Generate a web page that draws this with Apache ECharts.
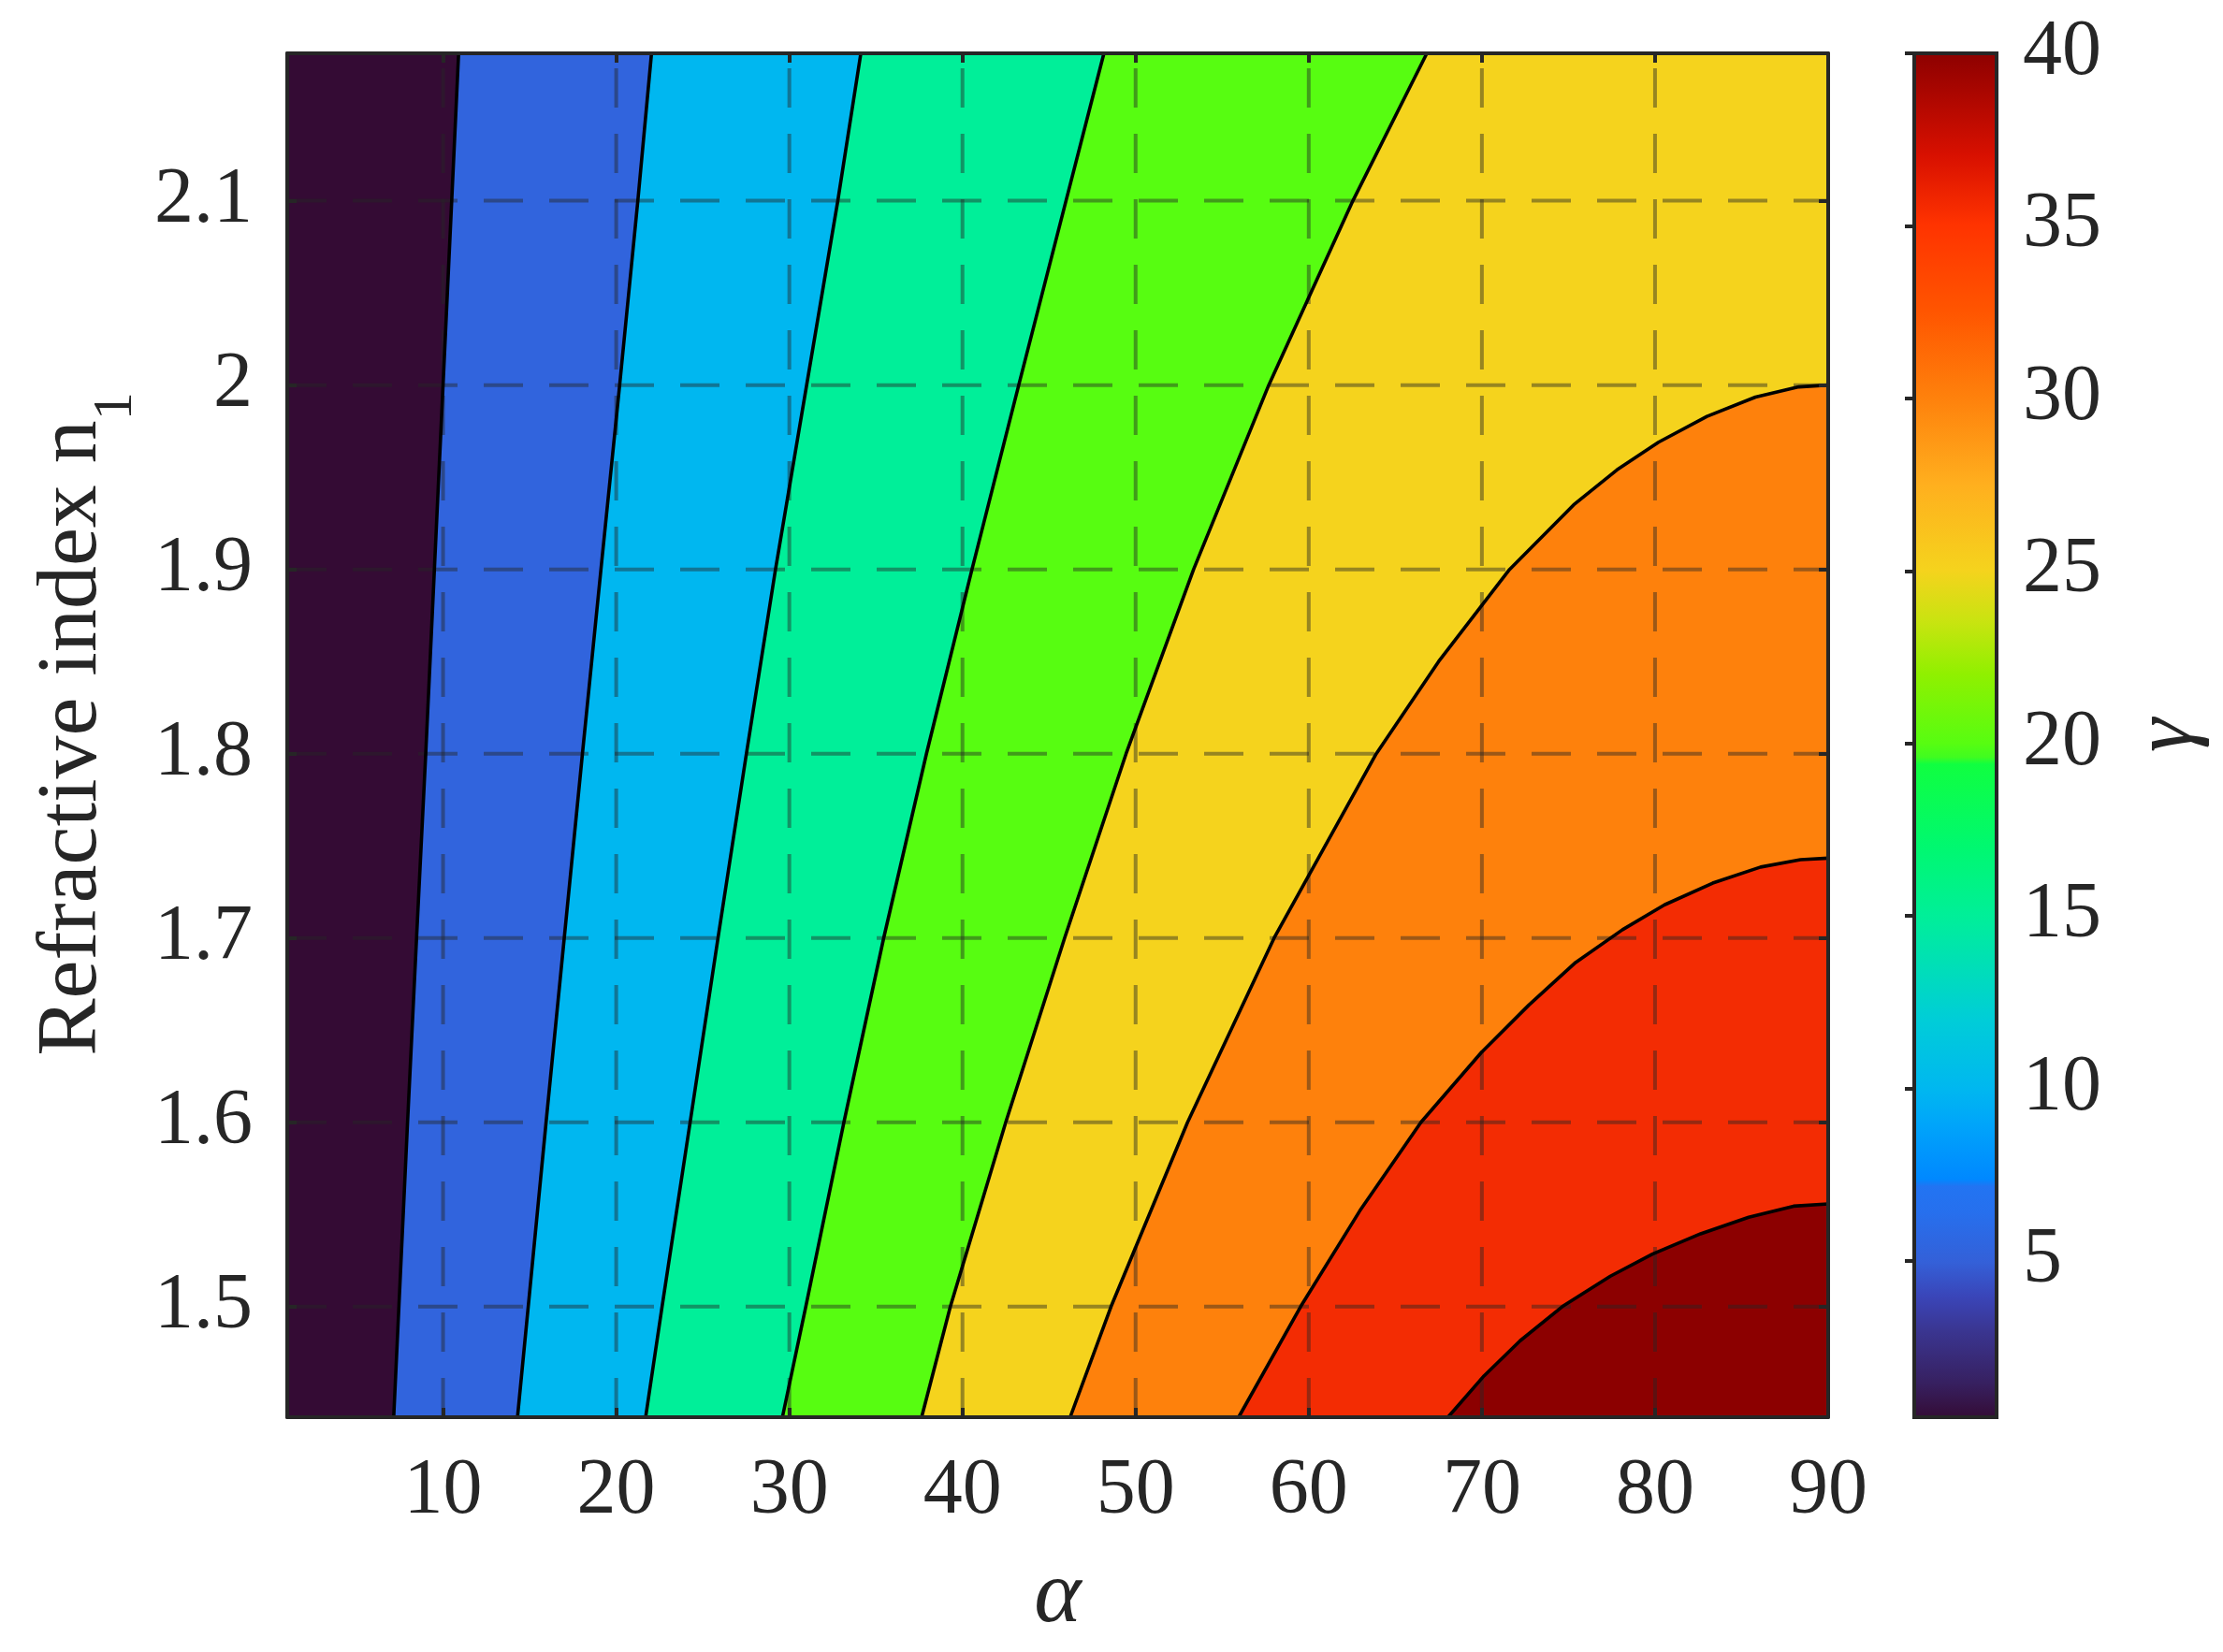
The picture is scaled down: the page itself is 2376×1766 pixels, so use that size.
<!DOCTYPE html>
<html><head><meta charset="utf-8">
<script src="https://cdn.jsdelivr.net/npm/echarts@6/dist/echarts.min.js"></script>
<style>html,body{margin:0;padding:0;background:#fff}#c{width:2376px;height:1766px}</style>
</head><body><div id="c"></div>
<script>
// ---- data ----
const alphaRange = [1, 90];
const nRange = [1.44, 2.18];
const xTicks = [10, 20, 30, 40, 50, 60, 70, 80, 90];
const yTicks = [1.5, 1.6, 1.7, 1.8, 1.9, 2.0, 2.1];
const levels = [5, 10, 15, 20, 25, 30, 35, 40];
const bandColors = ['#340B34', '#3164DD', '#00B7F0', '#00EF99', '#57FD11', '#F5D31D', '#FE810C', '#F32C03', '#8C0000'];
// contour lines: [alpha, n]
const contour05 = [[10.9,2.18],[10.5,2.1],[10.0,2.0],[9.5,1.9],[9.0,1.8],[8.47,1.7],[7.95,1.6],[7.45,1.5],[7.15,1.44]];
const contour10 = [[22.04,2.18],[21.25,2.1],[20.2,2.0],[19.12,1.9],[18.05,1.8],[17.0,1.7],[15.95,1.6],[14.92,1.5],[14.3,1.44]];
const contour15 = [[34.13,2.18],[32.8,2.1],[31.0,2.0],[29.2,1.9],[27.52,1.8],[25.88,1.7],[24.27,1.6],[22.65,1.5],[21.7,1.44]];
const contour20 = [[48.17,2.18],[45.98,2.1],[43.25,2.0],[40.55,1.9],[37.92,1.8],[35.45,1.7],[33.15,1.6],[30.95,1.5],[29.6,1.44]];
const contour25 = [[66.82,2.18],[62.55,2.1],[57.69,2.0],[53.35,1.9],[49.45,1.8],[45.9,1.7],[42.5,1.6],[39.3,1.5],[37.64,1.44]];
const contour30 = [[46.22,1.44],[48.58,1.5],[53.0,1.6],[58.0,1.7],[63.9,1.8],[67.5,1.85],[71.6,1.9],[75.3,1.935],[77.8,1.954],[80.2,1.969],[83.0,1.983],[85.8,1.9935],[88.3,1.999],[90,2.0]];
const contour35 = [[55.95,1.44],[59.53,1.5],[62.95,1.552],[66.48,1.6],[69.95,1.6377],[72.7,1.6635],[75.41,1.6867],[78.12,1.7045],[80.55,1.718],[83.33,1.7298],[86.1,1.7385],[88.4,1.7425],[90,1.7433]];
const contour40 = [[68.04,1.44],[70.13,1.4625],[72.21,1.4815],[74.64,1.5],[77.42,1.5165],[79.85,1.5285],[82.63,1.5395],[85.41,1.5485],[88.0,1.5545],[90,1.5557]];
const contours = [contour05, contour10, contour15, contour20, contour25, contour30, contour35, contour40];
// colour bar
const cbRange = [0.47, 40];
const cbTicks = [5, 10, 15, 20, 25, 30, 35, 40];
const cbStopValues = [0.47, 1.5, 3, 4, 5, 6.5, 7.2, 7.4, 9, 10, 12, 15, 17, 19.4, 19.6, 20, 22, 23.5, 25, 27.5, 30, 32.5, 35, 37, 40];
const cbStopColors = ['#340B34', '#372060', '#3A3590', '#3A45B8', '#3460D8', '#2670EE', '#2274F2', '#0088FF', '#00A5FA', '#00B7F0', '#00CDD8', '#00EF99', '#00F870', '#10FF40', '#40FC20', '#57FD11', '#90F000', '#C8E410', '#F5D31D', '#FFAF1E', '#FE810C', '#FF5500', '#FF3300', '#D81000', '#8C0000'];

// ---- rendering ----
const FONT = '"Liberation Serif", "Times New Roman", serif';
const INK = '#262626';
const GRIDCOL = 'rgba(38,38,38,0.45)';

function renderContours(params, api) {
  const P = p => api.coord(p);
  const [x0, x1] = alphaRange, [y0, y1] = nRange;
  const children = [];
  children.push({type: 'polygon', shape: {points: [P([x0, y0]), P([x1, y0]), P([x1, y1]), P([x0, y1])]}, style: {fill: bandColors[0]}});
  contours.forEach((c, i) => {
    const pts = c.map(P);
    pts.push(P([x1, y0]));
    if (c[0][1] >= y1) pts.push(P([x1, y1]));
    children.push({type: 'polygon', shape: {points: pts}, style: {fill: bandColors[i + 1], stroke: bandColors[i + 1], lineWidth: 1}});
  });
  xTicks.forEach(v => {
    if (v >= x1) return;
    const a = P([v, y0]), b = P([v, y1]);
    children.push({type: 'line', shape: {x1: a[0], y1: a[1], x2: b[0], y2: b[1]}, style: {stroke: GRIDCOL, lineWidth: 4, lineDash: [42, 28]}});
  });
  yTicks.forEach(v => {
    const a = P([x0, v]), b = P([x1, v]);
    children.push({type: 'line', shape: {x1: a[0], y1: a[1], x2: b[0], y2: b[1]}, style: {stroke: GRIDCOL, lineWidth: 4, lineDash: [42, 28]}});
  });
  contours.forEach(c => {
    children.push({type: 'polyline', shape: {points: c.map(P)}, style: {stroke: '#000', lineWidth: 3.6, fill: null, lineJoin: 'round'}});
  });
  return {type: 'group', children};
}

function renderColorbar(params, api) {
  const tl = api.coord([0, cbRange[1]]), br = api.coord([1, cbRange[0]]);
  const span = cbRange[1] - cbRange[0];
  const stops = cbStopValues.map((v, i) => ({offset: (v - cbRange[0]) / span, color: cbStopColors[i]}));
  return {type: 'rect', shape: {x: tl[0], y: tl[1], width: br[0] - tl[0], height: br[1] - tl[1]},
    style: {fill: new echarts.graphic.LinearGradient(0, 1, 0, 0, stops), stroke: INK, lineWidth: 4}};
}

const axisLineStyle = {show: true, lineStyle: {color: INK, width: 4}};
const tickStyle = vals => ({show: true, inside: true, length: 10, customValues: vals, lineStyle: {color: INK, width: 4}});
const labelStyle = (vals, margin) => ({show: true, customValues: vals, fontSize: 84, fontFamily: FONT, color: INK, margin});

const chart = echarts.init(document.getElementById('c'), null, {renderer: 'canvas'});
chart.setOption({
  animation: false,
  backgroundColor: '#fff',
  grid: [
    {left: 307, top: 57, width: 1647, height: 1458, outerBoundsMode: 'none'},
    {left: 2046, top: 57, width: 88, height: 1458, outerBoundsMode: 'none'}
  ],
  xAxis: [
    {type: 'value', gridIndex: 0, min: alphaRange[0], max: alphaRange[1], position: 'bottom', z: 5,
     axisLine: axisLineStyle, axisTick: tickStyle(xTicks), axisLabel: labelStyle(xTicks, 38), splitLine: {show: false},
     name: 'α', nameLocation: 'middle', nameGap: 145,
     nameTextStyle: {fontSize: 96, fontStyle: 'italic', fontFamily: FONT, color: INK}},
    {type: 'value', gridIndex: 0, min: alphaRange[0], max: alphaRange[1], position: 'top', z: 5,
     axisLine: axisLineStyle, axisTick: tickStyle(xTicks), axisLabel: {show: false}, splitLine: {show: false}},
    {type: 'value', gridIndex: 1, min: 0, max: 1, show: false}
  ],
  yAxis: [
    {type: 'value', gridIndex: 0, min: nRange[0], max: nRange[1], position: 'left', z: 5,
     axisLine: axisLineStyle, axisTick: tickStyle(yTicks), axisLabel: labelStyle(yTicks, 37), splitLine: {show: false},
     name: '{a|Refractive index n}{s|1}', nameLocation: 'middle', nameRotate: 90, nameGap: 155,
     nameTextStyle: {fontFamily: FONT, color: INK, rich: {
       a: {fontSize: 92, lineHeight: 92, fontFamily: FONT, color: INK, verticalAlign: 'top', padding: [0, 0, 0, 24]},
       s: {fontSize: 60, lineHeight: 60, fontFamily: FONT, color: INK, verticalAlign: 'top', padding: [62, 0, 0, 0]}
     }}},
    {type: 'value', gridIndex: 0, min: nRange[0], max: nRange[1], position: 'right', z: 5,
     axisLine: axisLineStyle, axisTick: tickStyle(yTicks), axisLabel: {show: false}, splitLine: {show: false}},
    {type: 'value', gridIndex: 1, min: cbRange[0], max: cbRange[1], position: 'right', z: 5,
     axisLine: {show: false}, axisTick: tickStyle(cbTicks), axisLabel: labelStyle(cbTicks, 28), splitLine: {show: false},
     name: 'γ', nameLocation: 'middle', nameRotate: 90, nameGap: 138,
     nameTextStyle: {fontSize: 92, fontStyle: 'italic', fontFamily: FONT, color: INK}}
  ],
  series: [
    {type: 'custom', xAxisIndex: 0, yAxisIndex: 0, z: 2, clip: false, silent: true,
     renderItem: renderContours, data: [[45, 1.8]]},
    {type: 'custom', xAxisIndex: 2, yAxisIndex: 2, z: 2, clip: false, silent: true,
     renderItem: renderColorbar, data: [[0.5, 20]]}
  ]
});
</script>
</body></html>
